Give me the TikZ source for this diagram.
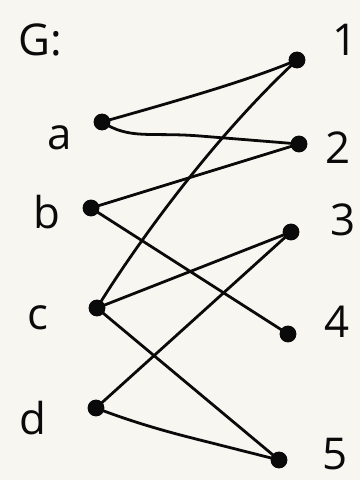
\documentclass[tikz,border=0pt]{standalone}
\usepackage{fontspec}
\setmainfont{Open Sans}
\usetikzlibrary{positioning}
\definecolor{cpaper}{HTML}{F8F6F1}
\definecolor{cink}{HTML}{0A0A0A}
\tikzset{
  every picture/.style={line width=2.8pt, line cap=round},
  vtx/.style={circle, fill=cink, draw=cink, inner sep=0pt, minimum size=14bp},
  lbl/.style={font=\fontsize{44}{46}\selectfont, text=cink, inner sep=0pt},
  edge/.style={draw=cink},
}
\begin{document}
\begin{tikzpicture}[x=1bp, y=-1bp]
  \fill[cpaper] (0,0) rectangle (360,480);
  \useasboundingbox (0,0) rectangle (360,480);
  % left side
  \node[vtx] (a) at (102,122) {};
  \node[vtx] (b) at (91,208) {};
  \node[vtx] (c) at (97,308) {};
  \node[vtx] (d) at (96,408) {};
  % right side
  \node[vtx] (r1) at (297,60) {};
  \node[vtx] (r2) at (299,144) {};
  \node[vtx] (r3) at (291,232) {};
  \node[vtx] (r4) at (288,334) {};
  \node[vtx] (r5) at (279,460) {};
  % labels
  \node[lbl] (g) at (40,40) {G:};
  \node[lbl] (la) at (60,138) {a};
  \node[lbl] (lb) at (47,212) {b};
  \node[lbl] (lc) at (38,318) {c};
  \node[lbl] (ld) at (33,418) {d};
  \node[lbl] (l1) at (345,40) {1};
  \node[lbl] (l2) at (338,148) {2};
  \node[lbl] (l3) at (343,220) {3};
  \node[lbl] (l4) at (337,322) {4};
  \node[lbl] (l5) at (335,454) {5};
  % edges
  \draw[edge] (a.center) .. controls (180,100) and (250,80) .. (r1.center);
  \draw[edge] (a.center) .. controls (130,140) and (150,132) .. (200,136) -- (r2.center);
  \draw[edge] (b.center) -- (r2.center);
  \draw[edge] (b.center) -- (r4.center);
  \draw[edge] (c.center) .. controls (120,270) and (200,150) .. (r1.center);
  \draw[edge] (c.center) -- (r3.center);
  \draw[edge] (c.center) -- (r5.center);
  \draw[edge] (d.center) -- (r3.center);
  \draw[edge] (d.center) .. controls (140,425) and (180,435) .. (200,440) -- (r5.center);
\end{tikzpicture}
\end{document}
